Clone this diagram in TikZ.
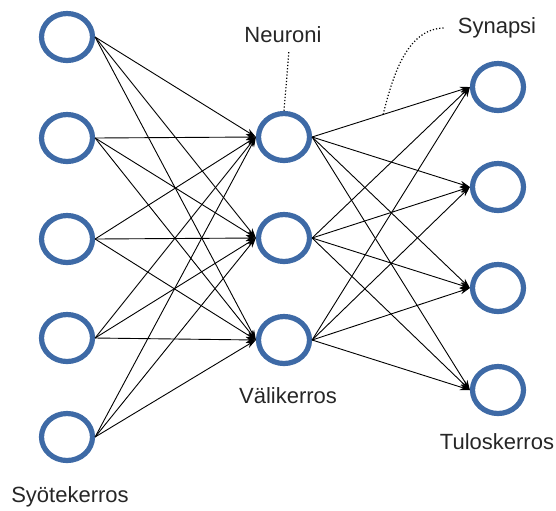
\documentclass[tikz,border=0pt]{standalone}
\usepackage{fontspec}
\setmainfont{Liberation Sans}
\usetikzlibrary{arrows.meta,shapes.geometric}
\definecolor{ring}{RGB}{62,106,166}

\begin{document}
\begin{tikzpicture}[x=0.5pt,y=-0.5pt,font=\fontsize{11}{13}\selectfont,
  n/.style={draw=ring,ellipse,line width=2.6pt,minimum width=25.5pt,
            minimum height=23.5pt,inner sep=0pt},
  syn/.style={-{Stealth[length=5pt,width=3.2pt]},line width=0.45pt},
  note/.style={densely dotted,line width=0.6pt},
  lbl/.style={text=black!85}]
  \useasboundingbox (0,0) rectangle (556,510);
  % syotekerros
  \node[n] (i1) at (67,37) {}; \node[n] (i2) at (67,138) {};
  \node[n] (i3) at (67,239) {}; \node[n] (i4) at (67,338) {};
  \node[n] (i5) at (67,437) {};
  % valikerros
  \node[n] (h1) at (284,137) {}; \node[n] (h2) at (284,238) {};
  \node[n] (h3) at (284,340) {};
  % tuloskerros
  \node[n] (o1) at (498,87) {}; \node[n] (o2) at (498,187) {};
  \node[n] (o3) at (498,288) {}; \node[n] (o4) at (498,390) {};
  % synapsit
  \draw[syn] (i1.east)--(h1.west); \draw[syn] (i1.east)--(h2.west); \draw[syn] (i1.east)--(h3.west);
  \draw[syn] (i2.east)--(h1.west); \draw[syn] (i2.east)--(h2.west); \draw[syn] (i2.east)--(h3.west);
  \draw[syn] (i3.east)--(h1.west); \draw[syn] (i3.east)--(h2.west); \draw[syn] (i3.east)--(h3.west);
  \draw[syn] (i4.east)--(h1.west); \draw[syn] (i4.east)--(h2.west); \draw[syn] (i4.east)--(h3.west);
  \draw[syn] (i5.east)--(h1.west); \draw[syn] (i5.east)--(h2.west); \draw[syn] (i5.east)--(h3.west);
  \draw[syn] (h1.east)--(o1.west) coordinate[pos=0.45] (s1);
  \draw[syn] (h1.east)--(o2.west); \draw[syn] (h1.east)--(o3.west); \draw[syn] (h1.east)--(o4.west);
  \draw[syn] (h2.east)--(o1.west); \draw[syn] (h2.east)--(o2.west);
  \draw[syn] (h2.east)--(o3.west); \draw[syn] (h2.east)--(o4.west);
  \draw[syn] (h3.east)--(o1.west); \draw[syn] (h3.east)--(o2.west);
  \draw[syn] (h3.east)--(o3.west); \draw[syn] (h3.east)--(o4.west);
  % labels
  \node[lbl] (neur) at (283,35) {Neuroni};
  \node[lbl] (synl) at (497,28) {Synapsi};
  \node[lbl] (vali) at (288,396) {Välikerros};
  \node[lbl] (tulo) at (497,442) {Tuloskerros};
  \node[lbl] (syot) at (70,497) {Syötekerros};
  \draw[note,shorten <=1pt] ([xshift=3pt]neur.south)--(h1.north);
  \draw[note,shorten >=3pt] (s1) to[out=76,in=180] (synl.west);
\end{tikzpicture}
\end{document}
